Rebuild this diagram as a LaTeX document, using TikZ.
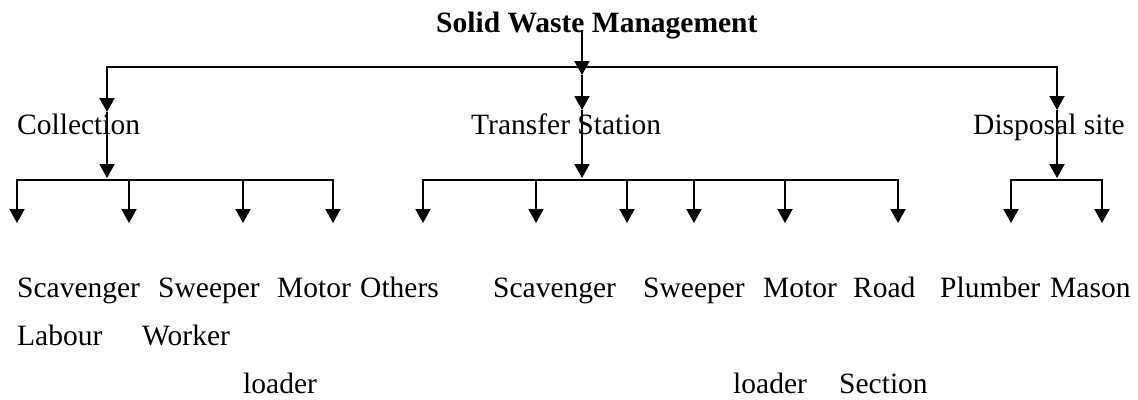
\documentclass[tikz,border=0pt]{standalone}
\usepackage{fontspec}
\setmainfont{Liberation Serif}
\usetikzlibrary{arrows.meta}
\begin{document}
\begin{tikzpicture}[x=1pt,y=-1pt,
  lbl/.style={anchor=base west, inner sep=0pt, font=\fontsize{29.5}{35}\selectfont},
  ttl/.style={anchor=base west, inner sep=0pt, font=\fontsize{29.5}{35}\selectfont\bfseries},
  ln/.style={line width=2pt, line join=miter},
  tip/.style={Triangle[width=15pt,length=14pt]},
  arr/.style={ln, -{Triangle[width=15pt,length=14pt]}},
  arr2/.style={ln, {Triangle[width=15pt,length=14pt]}-{Triangle[width=15pt,length=14pt]}}]
\useasboundingbox (0,0) rectangle (1138,399);
% texts
\node[ttl] (title) at (436,32) {Solid Waste Management};
\node[lbl] (coll) at (17,134) {Collection};
\node[lbl] (trans) at (471,134) {Transfer Station};
\node[lbl] (disp) at (973,134) {Disposal site};
\node[lbl] (s1) at (17,297) {Scavenger};
\node[lbl] (s2) at (158,297) {Sweeper};
\node[lbl] (s3) at (277,297) {Motor};
\node[lbl] (s4) at (360,297) {Others};
\node[lbl] (t1) at (493,297) {Scavenger};
\node[lbl] (t2) at (643,297) {Sweeper};
\node[lbl] (t3) at (763,297) {Motor};
\node[lbl] (t4) at (853,297) {Road};
\node[lbl] (d1) at (940,297) {Plumber};
\node[lbl] (d2) at (1050,297) {Mason};
\node[lbl] (s1b) at (17,345) {Labour};
\node[lbl] (s2b) at (142,345) {Worker};
\node[lbl] (s3b) at (243,393) {loader};
\node[lbl] (t3b) at (733,393) {loader};
\node[lbl] (t4b) at (839,393) {Section};
% top level
\coordinate (titleOut) at (582,30);
\coordinate (titleTip) at (582,75);
\coordinate (topL) at (107,67);
\coordinate (topR) at (1057,67);
\coordinate (collIn) at (107,112);
\coordinate (transIn) at (582,110);
\coordinate (dispIn) at (1057,110);
\draw[arr] (titleOut) -- (titleTip);
\draw[arr2] (collIn) -- (topL) -- (topR) -- (dispIn);
\draw[arr] (titleTip) -- (transIn);
% second level incoming
\coordinate (collBar) at (107,178);
\coordinate (transBar) at (582,178);
\coordinate (dispBar) at (1057,178);
\draw[arr] (collIn) -- (collBar);
\draw[arr] (transIn) -- (transBar);
\draw[arr] (dispIn) -- (dispBar);
% collection bar
\coordinate (cb1) at (17,180);
\coordinate (cb2) at (129,180);
\coordinate (cb3) at (243,180);
\coordinate (cb4) at (333,180);
\coordinate (ca1) at (17,223);
\coordinate (ca2) at (129,223);
\coordinate (ca3) at (243,223);
\coordinate (ca4) at (333,223);
\draw[arr2] (ca1) -- (cb1) -- (cb4) -- (ca4);
\draw[arr] (cb2) -- (ca2);
\draw[arr] (cb3) -- (ca3);
% transfer bar
\coordinate (tb1) at (423,180);
\coordinate (tb2) at (536,180);
\coordinate (tb3) at (627,180);
\coordinate (tb4) at (694,180);
\coordinate (tb5) at (785,180);
\coordinate (tb6) at (898,180);
\coordinate (ta1) at (423,223);
\coordinate (ta2) at (536,223);
\coordinate (ta3) at (627,223);
\coordinate (ta4) at (694,223);
\coordinate (ta5) at (785,223);
\coordinate (ta6) at (898,223);
\draw[arr2] (ta1) -- (tb1) -- (tb6) -- (ta6);
\draw[arr] (tb2) -- (ta2);
\draw[arr] (tb3) -- (ta3);
\draw[arr] (tb4) -- (ta4);
\draw[arr] (tb5) -- (ta5);
% disposal bar
\coordinate (db1) at (1011,180);
\coordinate (db2) at (1102,180);
\coordinate (da1) at (1011,223);
\coordinate (da2) at (1102,223);
\draw[arr2] (da1) -- (db1) -- (db2) -- (da2);
\end{tikzpicture}
\end{document}
